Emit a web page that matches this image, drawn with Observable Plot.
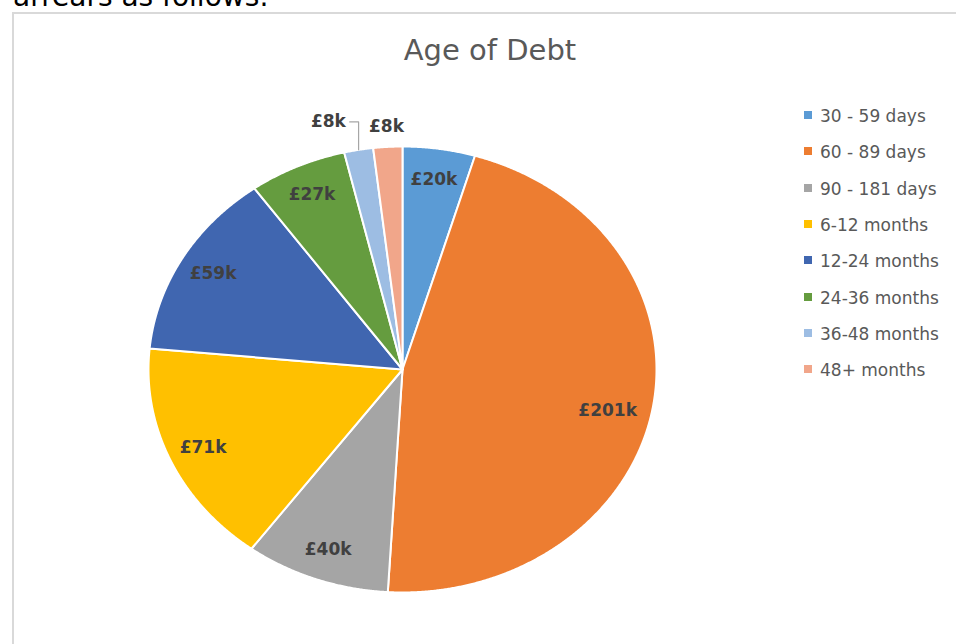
<!DOCTYPE html>
<html><head><meta charset="utf-8">
<script src="https://cdn.jsdelivr.net/npm/d3@7"></script>
<script src="https://cdn.jsdelivr.net/npm/@observablehq/plot@0.6"></script>
<style>
body{margin:0;width:956px;height:644px;overflow:hidden;position:relative;background:#fff;font-family:"DejaVu Sans",sans-serif}
#intro{position:absolute;left:13px;top:-17px;font-size:28px;line-height:28px;color:#000;white-space:nowrap}
#box{position:absolute;left:12px;top:12px;width:1000px;height:1000px;border:2px solid #d9d9d9;box-sizing:border-box}
#title{position:absolute;left:0;width:980px;text-align:center;top:36px;font-size:29px;line-height:28px;color:#595959}
#chart{position:absolute;left:0;top:0}
.item{position:absolute;left:804px;height:36px;line-height:36px;font-size:17px;color:#595959;white-space:nowrap}
.sw{display:inline-block;width:8px;height:8px;margin-right:8px;vertical-align:middle;position:relative;top:-2px}
</style></head>
<body>
<div id="intro">arrears as follows:</div>
<div id="box"></div>
<div id="chart"></div>
<div id="title">Age of Debt</div>
<div id="legend"></div>
<script>
const categories = ["30 - 59 days","60 - 89 days","90 - 181 days","6-12 months","12-24 months","24-36 months","36-48 months","48+ months"];
const values = [20, 201, 40, 71, 59, 27, 8, 8];
const colors = ["#5B9BD5","#ED7D31","#A5A5A5","#FFC000","#4066B0","#659C3F","#9DBDE3","#F1A68A"];
const titleText = "Age of Debt";

const total = d3.sum(values);
const slices = [];
const labels = [];
const leaders = [];
let acc = 0;
const smallIdx = values.map((v,i)=>v/total<0.03?i:-1).filter(i=>i>=0);
values.forEach((v,i)=>{
  const a0 = acc/total*2*Math.PI;
  acc += v;
  const a1 = acc/total*2*Math.PI;
  const cat = categories[i];
  slices.push({x:0,y:0,cat});
  const n = Math.max(2, Math.ceil((a1-a0)/(Math.PI/720)));
  for(let k=0;k<=n;k++){const t=a0+(a1-a0)*k/n; slices.push({x:Math.sin(t),y:Math.cos(t),cat});}
  slices.push({x:0,y:0,cat});
  const m = (a0+a1)/2;
  const text = "£"+v+"k";
  if(v/total>=0.03){
    const r = v/total>0.4 ? 0.82 : 0.86;
    labels.push({x:r*Math.sin(m), y:r*Math.cos(m)*(v/total>0.4?1.3:1), text, anchor:"middle"});
  } else if(i===smallIdx[smallIdx.length-1]){
    labels.push({x:1.09*Math.sin(m), y:1.09*Math.cos(m), text, anchor:"middle"});
  } else {
    const sx=Math.sin(m), sy=Math.cos(m), ly=1.11;
    leaders.push({x:sx,y:sy,g:i},{x:sx,y:ly,g:i},{x:sx-0.035,y:ly,g:i});
    labels.push({x:sx-0.05, y:ly, text, anchor:"end"});
  }
});

const plot = Plot.plot({
  width:956, height:644, margin:0,
  style:{background:"transparent", fontFamily:"DejaVu Sans"},
  x:{domain:[-1,1], range:[148,656], axis:null},
  y:{domain:[-1,1], range:[592,146], axis:null},
  color:{domain:categories, range:colors},
  marks:[
    Plot.line(slices,{x:"x",y:"y",z:"cat",fill:"cat",stroke:"white",strokeWidth:2,strokeLinejoin:"round",curve:"linear"}),
    Plot.line(leaders,{x:"x",y:"y",z:"g",stroke:"#a6a6a6",strokeWidth:1.2}),
    Plot.text(labels.filter(d=>d.anchor==="middle"),{x:"x",y:"y",text:"text",fontWeight:"bold",fontSize:17,fill:"#404040",textAnchor:"middle"}),
    Plot.text(labels.filter(d=>d.anchor==="end"),{x:"x",y:"y",text:"text",fontWeight:"bold",fontSize:17,fill:"#404040",textAnchor:"end"})
  ]
});
document.getElementById("chart").appendChild(plot);
document.getElementById("title").textContent = titleText;
const lg = document.getElementById("legend");
categories.forEach((c,i)=>{
  const d=document.createElement("div");
  d.className="item";
  d.style.top=(98+i*36.3)+"px";
  d.innerHTML=`<span class="sw" style="background:${colors[i]}"></span>`;
  d.appendChild(document.createTextNode(c));
  lg.appendChild(d);
});
</script>
</body></html>
